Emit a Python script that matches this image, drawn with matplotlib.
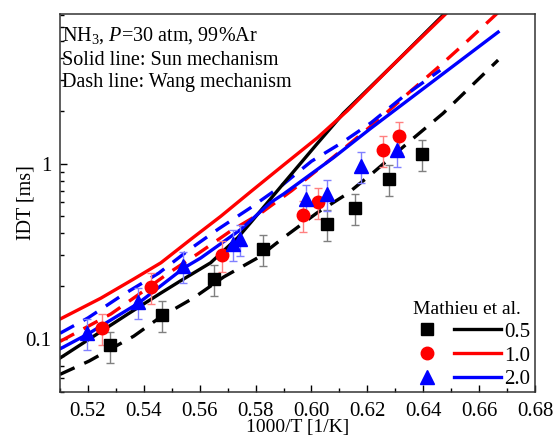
import numpy as np
import matplotlib
matplotlib.use("Agg")
import matplotlib.pyplot as plt
from matplotlib.legend_handler import HandlerTuple
from matplotlib.lines import Line2D

plt.rcParams['font.family'] = ['Liberation Serif', 'DejaVu Serif']
plt.rcParams['mathtext.fontset'] = 'custom'
plt.rcParams['mathtext.rm'] = 'Liberation Serif'
plt.rcParams['mathtext.it'] = 'Liberation Serif:italic'

# Mathieu et al. experiments, phi = 0.5 / 1.0 / 2.0
exp_x_05 = [0.528, 0.5464, 0.565, 0.5825, 0.6057, 0.6157, 0.6279, 0.6396]
exp_y_05 = [0.092, 0.137, 0.22, 0.327, 0.454, 0.561, 0.82, 1.14]
exp_x_10 = [0.525, 0.5425, 0.5679, 0.5968, 0.6025, 0.6257, 0.6314]
exp_y_10 = [0.116, 0.198, 0.302, 0.51, 0.607, 1.19, 1.43]
exp_x_20 = [0.5196, 0.5379, 0.5539, 0.5718, 0.5743, 0.5982, 0.6054, 0.6179, 0.6307]
exp_y_20 = [0.108, 0.163, 0.261, 0.349, 0.373, 0.63, 0.674, 0.97, 1.19]

# Sun mechanism (solid)
sun_x_05 = [0.510, 0.5221, 0.5343, 0.5461, 0.5532, 0.5639, 0.5736, 0.5782, 0.5854, 0.590, 0.6021, 0.6114, 0.630, 0.6475]
sun_y_05 = [0.078, 0.104, 0.139, 0.183, 0.215, 0.272, 0.378, 0.46, 0.63, 0.77, 1.30, 1.93, 3.75, 7.1]
sun_x_10 = [0.510, 0.5246, 0.5364, 0.5461, 0.5568, 0.5675, 0.5782, 0.590, 0.6021, 0.6129, 0.630, 0.648]
sun_y_10 = [0.130, 0.171, 0.220, 0.272, 0.37, 0.50, 0.69, 0.98, 1.40, 2.0, 3.75, 7.1]
sun_x_20 = [0.510, 0.520, 0.538, 0.5543, 0.5604, 0.5746, 0.5854, 0.590, 0.6079, 0.6211, 0.6668]
sun_y_20 = [0.088, 0.107, 0.160, 0.254, 0.29, 0.42, 0.60, 0.67, 1.08, 1.58, 5.6]

# Wang mechanism (dashed)
wang_x_05 = [0.510, 0.5204, 0.5282, 0.5364, 0.5461, 0.5579, 0.5686, 0.5807, 0.590, 0.6021, 0.6129, 0.6221, 0.6364, 0.6471, 0.6668]
wang_y_05 = [0.063, 0.075, 0.088, 0.104, 0.134, 0.172, 0.226, 0.29, 0.378, 0.525, 0.674, 0.888, 1.39, 1.93, 3.88]
wang_x_10 = [0.510, 0.5282, 0.5389, 0.5489, 0.5593, 0.5707, 0.5821, 0.5929, 0.6036, 0.6143, 0.625, 0.6346, 0.645, 0.655, 0.6643, 0.667]
wang_y_10 = [0.097, 0.139, 0.183, 0.238, 0.306, 0.409, 0.525, 0.70, 0.96, 1.32, 1.83, 2.51, 3.49, 4.85, 6.65, 7.3]
wang_x_20 = [0.510, 0.520, 0.5318, 0.5454, 0.5561, 0.5668, 0.5782, 0.5889, 0.600, 0.6111, 0.6214, 0.6325, 0.6461]
wang_y_20 = [0.108, 0.132, 0.176, 0.238, 0.322, 0.425, 0.56, 0.739, 1.03, 1.32, 1.71, 2.38, 3.40]

phi_labels = ['0.5', '1.0', '2.0']
colors = ['black', 'red', 'blue']
err_colors = ['#808080', '#ff8080', '#8080ff']
markers = ['s', 'o', '^']

fig = plt.figure(figsize=(5.54, 4.36), dpi=100)
ax = fig.add_axes([0.1083, 0.1009, 0.8574, 0.867])

lw = 2.4
dash = (4.8, 3.2)
wang = [(wang_x_05, wang_y_05), (wang_x_10, wang_y_10), (wang_x_20, wang_y_20)]
sun = [(sun_x_05, sun_y_05), (sun_x_10, sun_y_10), (sun_x_20, sun_y_20)]
exps = [(exp_x_05, exp_y_05), (exp_x_10, exp_y_10), (exp_x_20, exp_y_20)]

for (x, y), c in zip(wang, colors):
    ax.plot(x, y, color=c, lw=lw, ls=(0, dash))
for (x, y), c in zip(sun, colors):
    ax.plot(x, y, color=c, lw=lw)

for (x, y), c, ec, m in zip(exps, colors, err_colors, markers):
    y = np.array(y)
    ms = 10 if m == '^' else 9
    ax.errorbar(x, y, yerr=0.2 * y, fmt=m, color=c, ms=ms, ecolor=ec,
                elinewidth=1, capsize=3, capthick=1, zorder=5)

ax.set_yscale('log')
ax.set_xlim(0.51, 0.68)
ax.set_ylim(0.05, 7.1)
ax.set_xticks(np.arange(0.52, 0.681, 0.02))
ax.set_xticks(np.arange(0.51, 0.681, 0.01), minor=True)
ax.set_yticks([0.1, 1])
ax.set_yticklabels(['0.1', '1'])
ax.tick_params(which='both', direction='in', top=False, right=False, labelsize=15)
ax.tick_params(which='major', length=5, width=1)
ax.tick_params(which='minor', length=3, width=1)
ax.tick_params(axis='x', which='major', pad=7)
ax.tick_params(axis='y', which='major', pad=6)
for s in ax.spines.values():
    s.set_linewidth(1.1)
    s.set_color('#333333')

ax.set_xlabel('1000/T [1/K]', fontsize=14, labelpad=-1)
ax.set_ylabel('IDT [ms]', fontsize=14.5, labelpad=-7)

ax.text(0.005, 0.943, 'NH$_3$, $P$=30 atm, 99%Ar', transform=ax.transAxes, fontsize=14.5, va='center')
ax.text(0.005, 0.877, 'Solid line: Sun mechanism', transform=ax.transAxes, fontsize=14.5, va='center')
ax.text(0.005, 0.818, 'Dash line: Wang mechanism', transform=ax.transAxes, fontsize=14.5, va='center')

handles = []
for c, m in zip(colors, markers):
    mk = Line2D([], [], ls='none', marker=m, color=c, ms=10 if m == '^' else 9)
    ln = Line2D([], [], color=c, lw=lw)
    handles.append((mk, ln))
leg = ax.legend(handles, phi_labels, handler_map={tuple: HandlerTuple(ndivide=None, pad=0.17)},
                title='Mathieu et al.', loc='lower right', bbox_to_anchor=(1.006, -0.012),
                frameon=False, fontsize=15, title_fontsize=14, handlelength=4.7,
                handletextpad=0.15, labelspacing=0.2, borderaxespad=0.15, borderpad=0.2)

fig.savefig('out.png', dpi=100)
